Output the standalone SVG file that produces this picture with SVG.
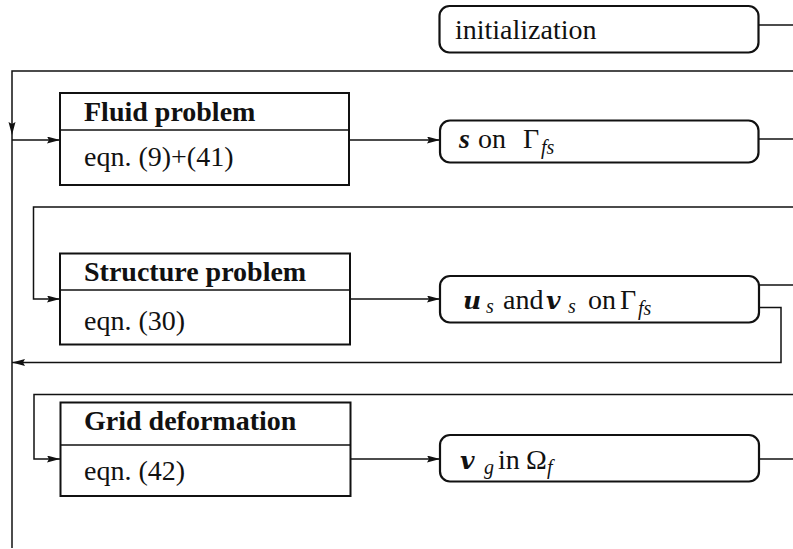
<svg xmlns="http://www.w3.org/2000/svg" width="793" height="549" viewBox="0 0 793 549">
  <style>
    .box { fill: #fff; stroke: #111; stroke-width: 2; }
    .rbox { fill: #fff; stroke: #111; stroke-width: 2.2; }
    .div { stroke: #111; stroke-width: 1.5; }
    .wire { fill: none; stroke: #111; stroke-width: 1.5; }
    .t { font-family: "Liberation Serif", "Times New Roman", serif; font-size: 28px; fill: #111; }
    .title { font-weight: bold; }
    .vec { font-weight: bold; font-style: italic; }
    .vec2 { font-family: "DejaVu Serif", serif; font-size: 25px; font-weight: bold; font-style: italic; }
    .sub { font-size: 20px; font-style: italic; }
  </style>
  <defs>
    <marker id="arrow" markerUnits="userSpaceOnUse" markerWidth="14" markerHeight="8" refX="13" refY="3.5" orient="auto">
      <path d="M0,0 L13,3.5 L0,7 L2,3.5 z" fill="#111"/>
    </marker>
  </defs>

  <!-- connectors -->
  <g id="connectors">
    <path class="wire" d="M758,25 H793"/>
    <path class="wire" d="M793,71 H12 V135" marker-end="url(#arrow)"/>
    <path class="wire" d="M12,135 V548"/>
    <path class="wire" d="M12,140 H60" marker-end="url(#arrow)"/>
    <path class="wire" d="M349,140 H440" marker-end="url(#arrow)"/>
    <path class="wire" d="M758,139 H793"/>
    <path class="wire" d="M793,207 H33.5 V299 H60" marker-end="url(#arrow)"/>
    <path class="wire" d="M350,299 H440" marker-end="url(#arrow)"/>
    <path class="wire" d="M759,285 H793"/>
    <path class="wire" d="M759,307.5 H781 V362.5 H12" marker-end="url(#arrow)"/>
    <path class="wire" d="M793,394.5 H34 V459 H60" marker-end="url(#arrow)"/>
    <path class="wire" d="M351,459 H440" marker-end="url(#arrow)"/>
    <path class="wire" d="M759,459 H793"/>
  </g>

  <!-- initialization -->
  <g id="initialization">
    <rect class="rbox" x="439.5" y="6" width="319" height="46.5" rx="10"/>
    <text class="t" x="455" y="38.5">initialization</text>
  </g>

  <!-- fluid solver -->
  <g id="fluid-problem">
    <rect class="box" x="60" y="93" width="289" height="92"/>
    <line class="div" x1="60" y1="130" x2="349" y2="130"/>
    <text class="t title" x="84" y="121">Fluid problem</text>
    <text class="t" x="84" y="166">eqn. (9)+(41)</text>
  </g>

  <!-- fluid output: traction on interface -->
  <g id="traction">
    <rect class="rbox" x="440" y="120.5" width="318.5" height="42" rx="10"/>
    <text class="t" y="148"><tspan class="vec" x="459">s</tspan><tspan x="478">on</tspan><tspan x="523">Γ</tspan><tspan class="sub" x="541" dy="6">fs</tspan></text>
  </g>

  <!-- structure solver -->
  <g id="structure-problem">
    <rect class="box" x="60" y="253.5" width="290" height="91"/>
    <line class="div" x1="60" y1="290" x2="350" y2="290"/>
    <text class="t title" x="84" y="281">Structure problem</text>
    <text class="t" x="84" y="330">eqn. (30)</text>
  </g>

  <!-- structure output: interface displacement and velocity -->
  <g id="interface-motion">
    <rect class="rbox" x="440" y="276" width="319" height="46.5" rx="10"/>
    <text class="t" y="308.5"><tspan class="vec2" x="463">u</tspan><tspan class="sub" x="486" dy="4">s</tspan><tspan x="503" dy="-4">and</tspan><tspan class="vec2" x="546">v</tspan><tspan class="sub" x="568" dy="4">s</tspan><tspan x="588" dy="-4">on</tspan><tspan x="620">Γ</tspan><tspan class="sub" x="638" dy="6">fs</tspan></text>
  </g>

  <!-- mesh solver -->
  <g id="grid-deformation">
    <rect class="box" x="60.5" y="402.5" width="290" height="93.5"/>
    <line class="div" x1="60.5" y1="445" x2="350.5" y2="445"/>
    <text class="t title" x="84" y="430">Grid deformation</text>
    <text class="t" x="84" y="480">eqn. (42)</text>
  </g>

  <!-- mesh output: grid velocity -->
  <g id="grid-velocity">
    <rect class="rbox" x="440" y="435" width="319" height="46.5" rx="10"/>
    <text class="t" y="468.5"><tspan class="vec2" x="460">v</tspan><tspan class="sub" x="484" dy="5">g</tspan><tspan x="498" dy="-5">in</tspan><tspan x="526">Ω</tspan><tspan class="sub" x="547" dy="5">f</tspan></text>
  </g>
</svg>
